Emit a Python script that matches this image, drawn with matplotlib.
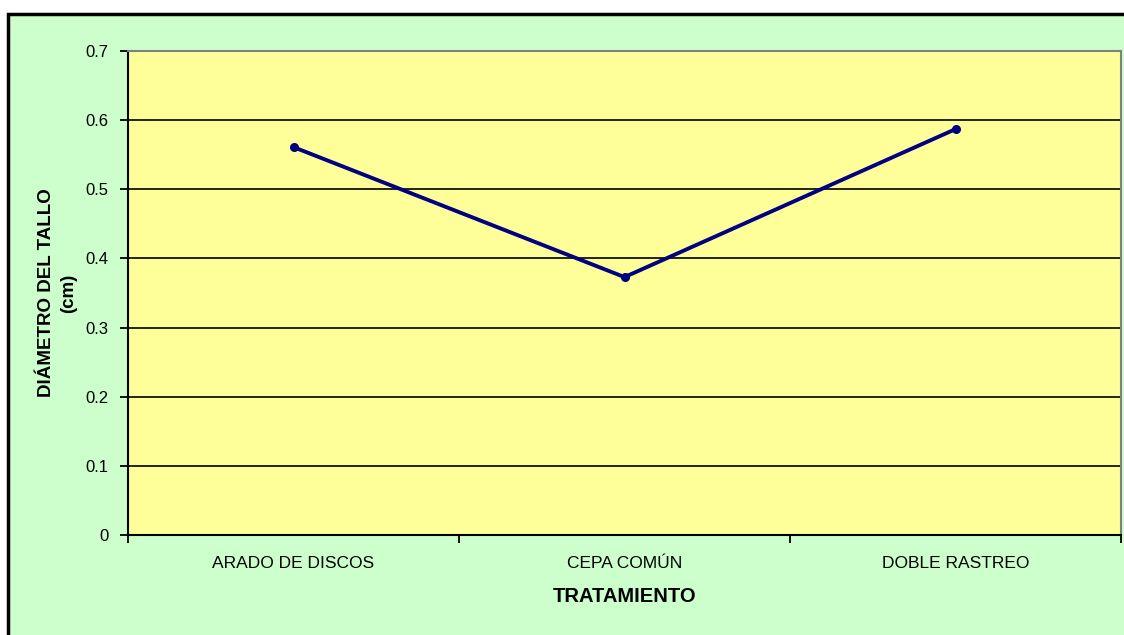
import matplotlib
matplotlib.use("Agg")
import matplotlib.pyplot as plt
from matplotlib.patches import Rectangle

plt.rcParams['font.family'] = ['Liberation Sans', 'DejaVu Sans']

tratamientos = ["ARADO DE DISCOS", "CEPA COMÚN", "DOBLE RASTREO"]
diametro = [0.561, 0.373, 0.587]
y_ticks = [0, 0.1, 0.2, 0.3, 0.4, 0.5, 0.6, 0.7]
y_labels = ["0", "0.1", "0.2", "0.3", "0.4", "0.5", "0.6", "0.7"]

fig = plt.figure(figsize=(11.24, 6.35), dpi=100, facecolor="white")

# green chart area panel with black frame (runs off the right/bottom edge)
fig.patches.append(Rectangle((8 / 1124, -0.1), 1.2, (635 - 14) / 635 + 0.1,
                             transform=fig.transFigure, facecolor="#CCFFCC",
                             edgecolor="black", linewidth=2.5, zorder=-10))

ax = fig.add_axes([128 / 1124, 100 / 635, 993 / 1124, 484 / 635])
ax.set_zorder(5)
ax.set_facecolor("#FFFF99")

x = list(range(len(tratamientos)))
ax.plot(x, diametro, color="#000080", linewidth=2.8, marker="o",
        markersize=5.5, zorder=3)

ax.set_xlim(-0.5, len(tratamientos) - 0.5)
ax.set_ylim(0, 0.7)
ax.set_yticks(y_ticks)
ax.set_yticklabels(y_labels, fontsize=12)
for yv in y_ticks[1:-1]:
    ax.axhline(yv, color="black", linewidth=1.2, zorder=1)

# tick marks sit between categories, labels under the category centres
ax.set_xticks([i - 0.5 for i in range(len(tratamientos) + 1)])
ax.set_xticklabels([])
ax.set_xticks(x, minor=True)
ax.set_xticklabels(tratamientos, minor=True, fontsize=12.5)
ax.tick_params(axis="x", which="minor", length=0, pad=15)
ax.tick_params(axis="both", which="major", direction="out", length=6,
               width=1.3, color="black")
ax.tick_params(axis="y", pad=8)

for side in ("left", "bottom"):
    ax.spines[side].set_color("black")
    ax.spines[side].set_linewidth(1.5)
for side in ("top", "right"):
    ax.spines[side].set_color("#808080")
    ax.spines[side].set_linewidth(1.5)

ax.set_xlabel("TRATAMIENTO", fontsize=14.5, fontweight="bold", labelpad=12)
ax.set_ylabel("DIÁMETRO DEL TALLO\n(cm)", fontsize=13.5, fontweight="bold",
              labelpad=6, linespacing=1.4)

fig.savefig("out.png", dpi=100, facecolor="white")
